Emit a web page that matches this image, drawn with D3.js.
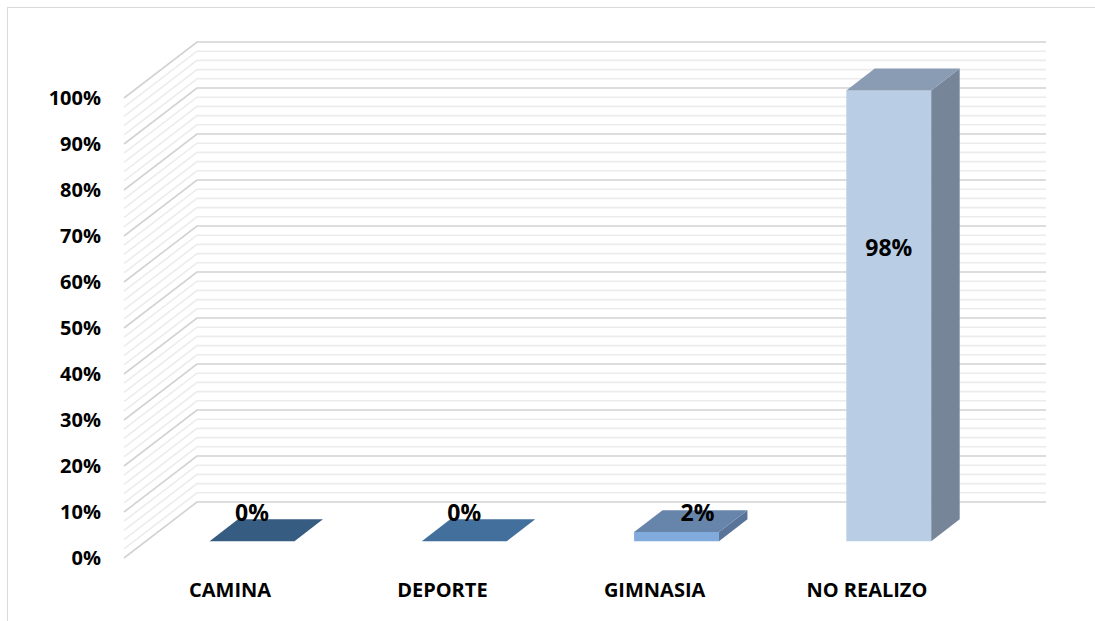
<!DOCTYPE html>
<html>
<head>
<meta charset="utf-8">
<script src="https://cdn.jsdelivr.net/npm/d3@7"></script>
<style>
  html, body { margin: 0; padding: 0; background: #ffffff; }
  svg { display: block; }
  text { font-family: "Open Sans", "Noto Sans", sans-serif; font-weight: 700; fill: #000; }
</style>
</head>
<body>
<svg id="chart" width="1095" height="621"></svg>
<script>
// Activity categories and their share of respondents
const categories = ["CAMINA", "DEPORTE", "GIMNASIA", "NO REALIZO"];
const values = [0, 0, 0.02, 0.98];
const valueLabels = ["0%", "0%", "2%", "98%"];
const tickValues = [0, 0.1, 0.2, 0.3, 0.4, 0.5, 0.6, 0.7, 0.8, 0.9, 1.0];

// Face colours of each 3D column (front, top, right side)
const frontColors = ["#3f6690", "#4a79a8", "#80abdc", "#b9cde5"];
const topColors   = ["#375c81", "#426f9b", "#6785ab", "#8a9bb4"];
const sideColors  = ["#2f4f70", "#3a6187", "#587599", "#778598"];

const svg = d3.select("#chart");

// Chart area border
svg.append("rect")
  .attr("x", 7.5).attr("y", 7.5)
  .attr("width", 1200).attr("height", 800)
  .attr("fill", "none").attr("stroke", "#d9d9d9").attr("stroke-width", 1);

// Oblique projection: front plane plus a receding depth offset
const DEPTH_X = 73, DEPTH_Y = 56;
const x = d3.scaleBand().domain(categories).range([124, 973]).padding(0);
const y = d3.scaleLinear().domain([0, 1]).range([558, 98]);
const project = (px, v, d) => [px + DEPTH_X * d, y(v) - DEPTH_Y * d];

// Gridlines every 2%, emphasised every 10%
const gridValues = d3.range(0, 51).map(i => i / 50);
const grid = svg.append("g").attr("fill", "none");
gridValues.forEach((v, i) => {
  const major = i % 5 === 0;
  const a = project(x.range()[0], v, 0);
  const b = project(x.range()[0], v, 1);
  const c = project(x.range()[1], v, 1);
  grid.append("path")
    .attr("d", d3.line()([a, b, c]))
    .attr("stroke", major ? "#d2d2d2" : "#ececec")
    .attr("stroke-width", 1.6);
});

// Value axis labels on the front edge
svg.append("g").selectAll("text")
  .data(tickValues)
  .join("text")
  .attr("x", 101)
  .attr("y", d => y(d))
  .attr("dy", "0.35em")
  .attr("text-anchor", "end")
  .attr("font-size", 20)
  .text(d => d3.format(".0%")(d));

// Category labels
svg.append("g").selectAll("text")
  .data(categories)
  .join("text")
  .attr("x", d => x(d) + x.bandwidth() / 2)
  .attr("y", 597)
  .attr("text-anchor", "middle")
  .attr("font-size", 20)
  .text(d => d);

// 3D columns
const BAR_FRONT = 0.3, BAR_BACK = 0.69, BAR_WIDTH = 0.4;
const bars = svg.append("g");
categories.forEach((cat, i) => {
  const v = values[i];
  const cx = x(cat) + x.bandwidth() / 2;
  const x0 = cx - x.bandwidth() * BAR_WIDTH / 2;
  const x1 = cx + x.bandwidth() * BAR_WIDTH / 2;
  const fbl = project(x0, 0, BAR_FRONT), fbr = project(x1, 0, BAR_FRONT);
  const ftl = project(x0, v, BAR_FRONT), ftr = project(x1, v, BAR_FRONT);
  const btl = project(x0, v, BAR_BACK), btr = project(x1, v, BAR_BACK);
  const bbr = project(x1, 0, BAR_BACK);
  const poly = pts => d3.line()(pts) + "Z";
  if (v > 0) {
    bars.append("path").attr("d", poly([fbl, fbr, ftr, ftl])).attr("fill", frontColors[i]);
    bars.append("path").attr("d", poly([fbr, bbr, btr, ftr])).attr("fill", sideColors[i]);
  }
  bars.append("path").attr("d", poly([ftl, ftr, btr, btl])).attr("fill", topColors[i]);
});

// Data labels: above short columns, inside tall ones
const labelNudge = { "GIMNASIA": [21, 9] };
svg.append("g").selectAll("text")
  .data(categories)
  .join("text")
  .attr("x", (d, i) => {
    const cx = x(d) + x.bandwidth() / 2 + DEPTH_X * BAR_FRONT;
    return cx + (labelNudge[d] ? labelNudge[d][0] : 0);
  })
  .attr("y", (d, i) => {
    const v = values[i];
    const top = y(v) - DEPTH_Y * BAR_FRONT;
    const base = y(0) - DEPTH_Y * BAR_FRONT;
    const yy = v > 0.5 ? top + (base - top) * 0.35 : top - 28;
    return yy + (labelNudge[d] ? labelNudge[d][1] : 0);
  })
  .attr("dy", "0.35em")
  .attr("text-anchor", "middle")
  .attr("font-size", 23)
  .text((d, i) => valueLabels[i]);
</script>
</body>
</html>
